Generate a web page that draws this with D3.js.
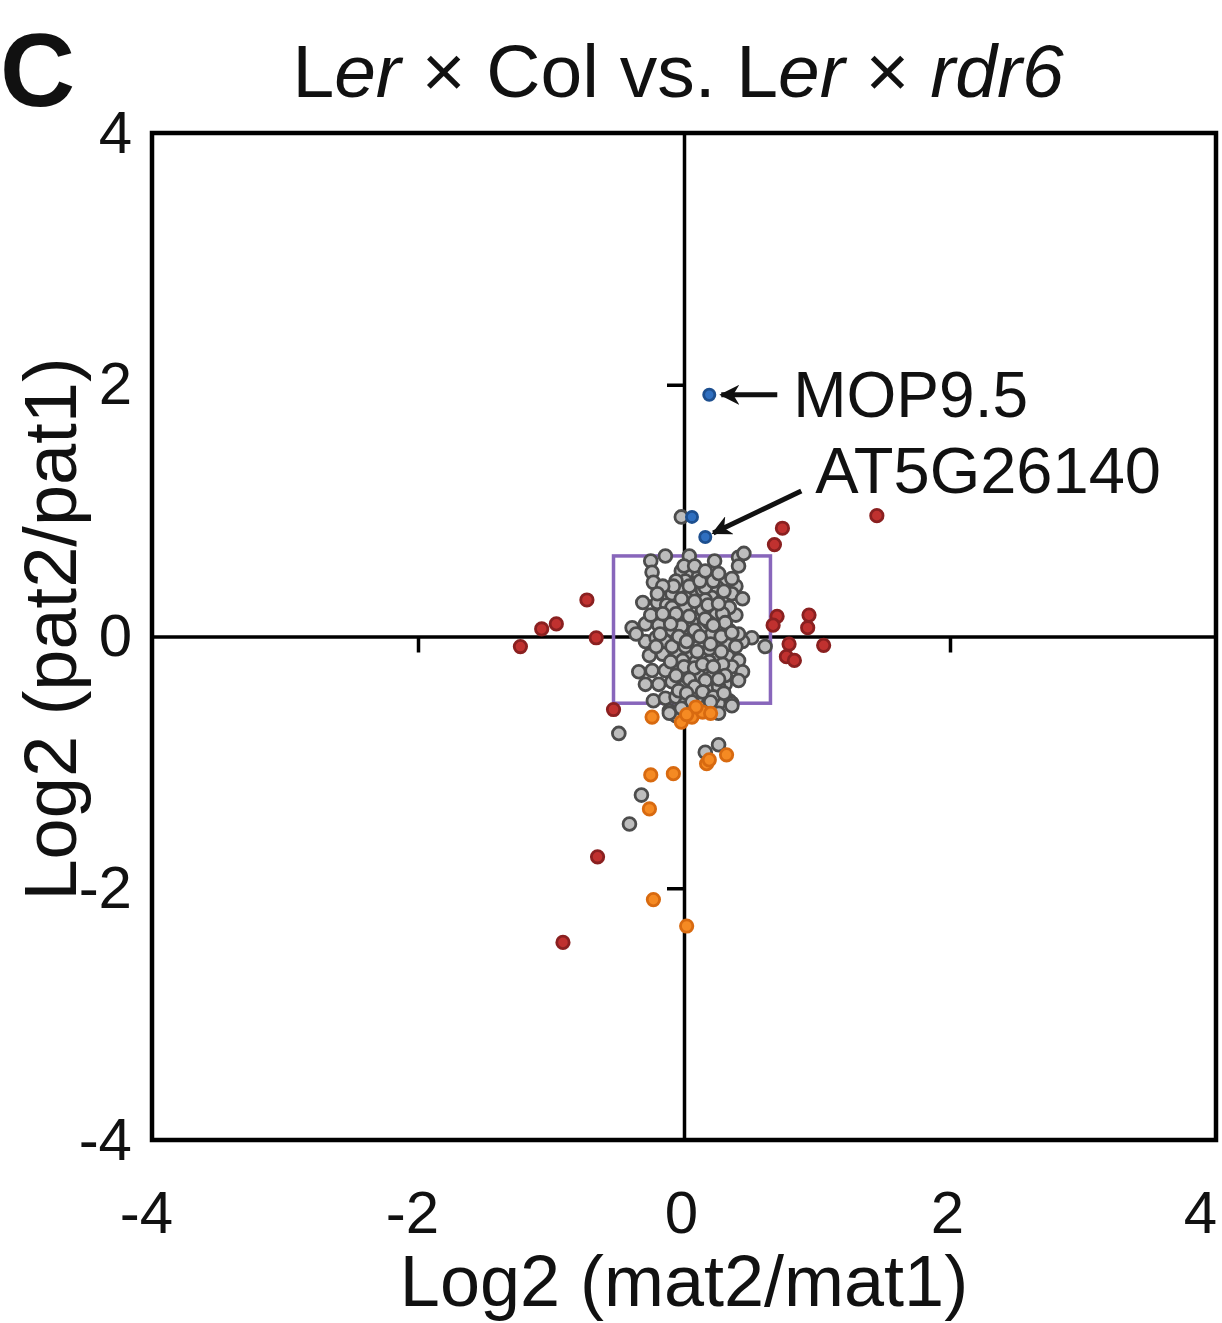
<!DOCTYPE html>
<html>
<head>
<meta charset="utf-8">
<script src="https://cdn.jsdelivr.net/npm/d3@7"></script>
<style>
  body { margin: 0; background: #fff; }
  text { font-family: "Liberation Sans", Arial, sans-serif; fill: #111; }
</style>
</head>
<body>
<script>
const Width = 1222;
const Height = 1323;

// log2 ratios: [mat2/mat1, pat2/pat1]
const greyPoints = [
  [-0.25, 0.60], [-0.14, 0.64], [0.04, 0.64], [0.23, 0.60], [0.41, 0.63], [0.45, 0.66], [0.41, 0.56],
  [-0.24, 0.51], [-0.23, 0.43], [-0.02, 0.52], [0.06, 0.50], [0.11, 0.48], [0.18, 0.47], [0.01, 0.44],
  [0.09, 0.42], [0.31, 0.43], [0.39, 0.40], [0.25, 0.39], [-0.31, 0.27], [-0.20, 0.27], [-0.13, 0.25],
  [-0.01, 0.37], [0.05, 0.34], [0.14, 0.37], [0.21, 0.31], [0.29, 0.29], [0.36, 0.34], [0.44, 0.30],
  [0.11, 0.26], [-0.04, 0.26], [0.06, 0.23], [0.21, 0.23], [-0.39, 0.07], [-0.29, 0.10], [-0.19, 0.09],
  [-0.09, 0.15], [0.00, 0.18], [0.11, 0.15], [0.24, 0.17], [0.39, 0.17], [-0.09, 0.05], [0.01, 0.07],
  [0.14, 0.07], [0.26, 0.07], [0.34, 0.05], [0.51, -0.01], [0.61, -0.08], [0.44, -0.04], [-0.29, -0.04],
  [-0.21, -0.01], [-0.14, -0.04], [-0.04, -0.03], [0.06, -0.02], [0.16, -0.03], [0.24, -0.06], [0.33, -0.07],
  [0.39, -0.08], [-0.26, -0.15], [-0.16, -0.14], [-0.06, -0.14], [0.04, -0.16], [0.14, -0.15], [0.24, -0.15],
  [0.33, -0.16], [0.41, -0.19], [-0.34, -0.28], [-0.24, -0.27], [-0.14, -0.27], [-0.04, -0.24], [0.06, -0.27],
  [0.16, -0.26], [0.26, -0.27], [0.36, -0.24], [0.44, -0.28], [-0.29, -0.38], [-0.19, -0.38], [-0.09, -0.36],
  [0.01, -0.39], [0.11, -0.38], [0.21, -0.40], [0.31, -0.38], [0.41, -0.35], [-0.23, -0.51], [-0.14, -0.49],
  [-0.06, -0.48], [0.04, -0.47], [0.14, -0.48], [0.24, -0.46], [0.34, -0.51], [-0.11, -0.59], [-0.06, -0.63],
  [0.26, -0.53], [0.36, -0.53], [-0.06, 0.44], [0.16, 0.39], [-0.09, 0.34], [0.01, 0.31], [0.16, 0.29],
  [0.34, 0.23], [-0.09, 0.23], [0.01, 0.23], [0.14, 0.21], [0.29, 0.18], [-0.04, 0.13], [0.06, 0.11],
  [0.19, 0.11], [0.31, 0.11], [0.09, 0.03], [0.21, 0.02], [0.41, 0.02], [0.01, -0.08], [0.11, -0.08],
  [-0.09, -0.08], [0.19, -0.10], [-0.01, -0.19], [0.09, -0.20], [0.19, -0.20], [0.29, -0.22], [0.11, -0.31],
  [0.21, -0.32], [0.01, -0.31], [0.31, -0.31], [-0.04, -0.43], [0.09, -0.44], [0.19, -0.43], [0.26, -0.40],
  [0.11, -0.53], [0.01, -0.53], [0.16, -0.56], [-0.21, -0.08], [-0.36, 0.02], [-0.25, 0.17], [-0.16, 0.18],
  [-0.02, 0.30], [0.08, 0.28], [0.18, 0.25], [0.26, 0.26], [-0.06, 0.18], [0.04, 0.16], [0.16, 0.14],
  [0.22, 0.09], [-0.02, 0.08], [0.08, 0.05], [0.28, 0.00], [-0.04, 0.00], [0.12, 0.00], [0.36, 0.03],
  [0.02, -0.04], [0.10, -0.12], [0.20, -0.06], [0.28, -0.12], [-0.10, -0.20], [0.00, -0.24], [0.08, -0.25],
  [0.14, -0.22], [0.22, -0.24], [0.04, -0.34], [0.16, -0.35], [0.26, -0.34], [-0.06, -0.31], [0.08, -0.40],
  [0.14, -0.44], [0.02, -0.45], [0.22, -0.48], [0.06, -0.52], [-0.02, -0.57], [0.08, -0.60], [0.20, -0.52],
  [0.30, -0.45], [-0.08, 0.40], [0.04, 0.40], [0.12, 0.44], [0.22, 0.44], [0.30, 0.36], [0.00, 0.56],
  [0.08, 0.56], [0.16, 0.52], [0.26, 0.50], [0.36, 0.46], [-0.16, 0.40], [-0.20, 0.34], [-0.10, 0.10],
  [-0.18, 0.02],
  [-0.02, 0.95], [-0.49, -0.77], [-0.32, -1.26], [-0.41, -1.49], [0.26, -0.86], [0.16, -0.92],
  [-0.11, -0.61], [0.26, -0.61], [0.36, -0.55]
];

const redPoints = [
  [0.74, 0.86], [0.68, 0.73], [1.45, 0.96], [-0.73, 0.29], [-0.96, 0.10], [-1.07, 0.06], [-0.66, -0.01],
  [-1.23, -0.08], [-0.53, -0.58], [0.70, 0.16], [0.67, 0.09], [0.94, 0.17], [0.93, 0.07], [0.79, -0.06],
  [1.05, -0.07], [0.77, -0.16], [0.83, -0.19], [-0.65, -1.75], [-0.91, -2.43]
];

const orangePoints = [
  [-0.24, -0.64], [-0.02, -0.68], [0.06, -0.64], [0.14, -0.60], [0.20, -0.61], [0.09, -0.56], [0.02, -0.62],
  [-0.25, -1.10], [-0.08, -1.09], [0.17, -1.01], [0.19, -0.98], [0.32, -0.94], [-0.26, -1.37],
  [-0.23, -2.09], [0.02, -2.30]
];

const bluePoints = [[0.06, 0.95], [0.16, 0.79], [0.19, 1.92]];

// threshold box
const boxX = [-0.53, 0.65];
const boxY = [-0.53, 0.64];

const tickValues = [-4, -2, 0, 2, 4];

const svg = d3.select('body')
  .append('svg')
    .attr('width', Width)
    .attr('height', Height);

const xScale = d3.scaleLinear().domain([-4, 4]).range([152, 1216]);
const yScale = d3.scaleLinear().domain([-4, 4]).range([1140, 133]);

svg.append('defs').append('marker')
  .attr('id', 'arrow')
  .attr('viewBox', '0 0 10 10')
  .attr('refX', 9).attr('refY', 5)
  .attr('markerWidth', 4).attr('markerHeight', 4)
  .attr('markerUnits', 'strokeWidth')
  .attr('orient', 'auto')
  .append('path')
    .attr('d', 'M0,0 L10,5 L0,10 L3,5 Z')
    .attr('fill', '#111');

// panel letter + title
svg.append('text')
  .attr('x', 0).attr('y', 106)
  .style('font-size', '104px').style('font-weight', 'bold')
  .text('C');

const title = svg.append('text')
  .attr('x', 678).attr('y', 97)
  .attr('text-anchor', 'middle')
  .style('font-size', '75px');
title.append('tspan').text('L');
title.append('tspan').style('font-style', 'italic').text('er');
title.append('tspan').text(' × Col vs. L');
title.append('tspan').style('font-style', 'italic').text('er');
title.append('tspan').text(' × ');
title.append('tspan').style('font-style', 'italic').text('rdr6');

// tick labels along the frame
svg.append('g')
  .attr('transform', `translate(0, ${yScale(-4)})`)
  .call(d3.axisBottom(xScale).tickValues(tickValues).tickSize(0).tickPadding(50)
    .tickFormat(d => String(d)))
  .call(g => g.select('.domain').remove())
  .selectAll('text')
    .style('font-size', '60px').attr('fill', '#111')
    .attr('dx', d => d === 4 ? -16 : (d < 0 ? -6 : -3));

svg.append('g')
  .attr('transform', `translate(${xScale(-4)}, 0)`)
  .call(d3.axisLeft(yScale).tickValues(tickValues).tickSize(0).tickPadding(20)
    .tickFormat(d => String(d)))
  .call(g => g.select('.domain').remove())
  .selectAll('text')
    .style('font-size', '60px').attr('fill', '#111');

// zero axes with small ticks
svg.append('g')
  .attr('transform', `translate(0, ${yScale(0)})`)
  .call(d3.axisBottom(xScale).tickValues([-2, 2]).tickSize(16).tickSizeOuter(0).tickFormat(''))
  .call(g => g.selectAll('line, path').attr('stroke', '#000').attr('stroke-width', 3.5));

svg.append('g')
  .attr('transform', `translate(${xScale(0)}, 0)`)
  .call(d3.axisLeft(yScale).tickValues([-2, 2]).tickSize(17).tickSizeOuter(0).tickFormat(''))
  .call(g => g.selectAll('line, path').attr('stroke', '#000').attr('stroke-width', 3.5));

// frame
svg.append('rect')
  .attr('x', xScale(-4)).attr('y', yScale(4))
  .attr('width', xScale(4) - xScale(-4))
  .attr('height', yScale(-4) - yScale(4))
  .attr('fill', 'none')
  .attr('stroke', '#000')
  .attr('stroke-width', 4.5);

// purple box
svg.append('rect')
  .attr('x', xScale(boxX[0])).attr('y', yScale(boxY[1]))
  .attr('width', xScale(boxX[1]) - xScale(boxX[0]))
  .attr('height', yScale(boxY[0]) - yScale(boxY[1]))
  .attr('fill', 'none')
  .attr('stroke', '#8866bb')
  .attr('stroke-width', 3.5);

const drawPoints = (data, fill, stroke, r) => {
  svg.append('g').selectAll('circle')
    .data(data)
    .join('circle')
      .attr('cx', d => xScale(d[0]))
      .attr('cy', d => yScale(d[1]))
      .attr('r', r)
      .attr('fill', fill)
      .attr('stroke', stroke)
      .attr('stroke-width', 2.8);
};

drawPoints(greyPoints, '#bdbdbd', '#4c4c4c', 6.4);
drawPoints(redPoints, '#c0312f', '#8a2020', 6.2);
drawPoints(orangePoints, '#f58a23', '#d86a10', 6.2);
drawPoints(bluePoints, '#2f6fc0', '#1d4f8f', 5.6);

// annotations
const mop = bluePoints[2];
svg.append('line')
  .attr('x1', xScale(mop[0]) + 68).attr('y1', yScale(mop[1]))
  .attr('x2', xScale(mop[0]) + 12).attr('y2', yScale(mop[1]))
  .attr('stroke', '#111').attr('stroke-width', 5)
  .attr('marker-end', 'url(#arrow)');
svg.append('text')
  .attr('x', xScale(mop[0]) + 84).attr('y', yScale(mop[1]) + 22)
  .style('font-size', '64px')
  .text('MOP9.5');

const at5 = bluePoints[1];
svg.append('line')
  .attr('x1', xScale(at5[0]) + 96).attr('y1', yScale(at5[1]) - 46)
  .attr('x2', xScale(at5[0]) + 8).attr('y2', yScale(at5[1]) - 4)
  .attr('stroke', '#111').attr('stroke-width', 5)
  .attr('marker-end', 'url(#arrow)');
svg.append('text')
  .attr('x', xScale(at5[0]) + 110).attr('y', yScale(at5[1]) - 44)
  .style('font-size', '65px')
  .text('AT5G26140');

// axis titles
svg.append('text')
  .attr('x', xScale(0)).attr('y', 1306)
  .attr('text-anchor', 'middle')
  .style('font-size', '72px')
  .text('Log2 (mat2/mat1)');

svg.append('text')
  .attr('transform', `translate(76, 629) rotate(-90)`)
  .attr('text-anchor', 'middle')
  .style('font-size', '74px')
  .text('Log2 (pat2/pat1)');
</script>
</body>
</html>
